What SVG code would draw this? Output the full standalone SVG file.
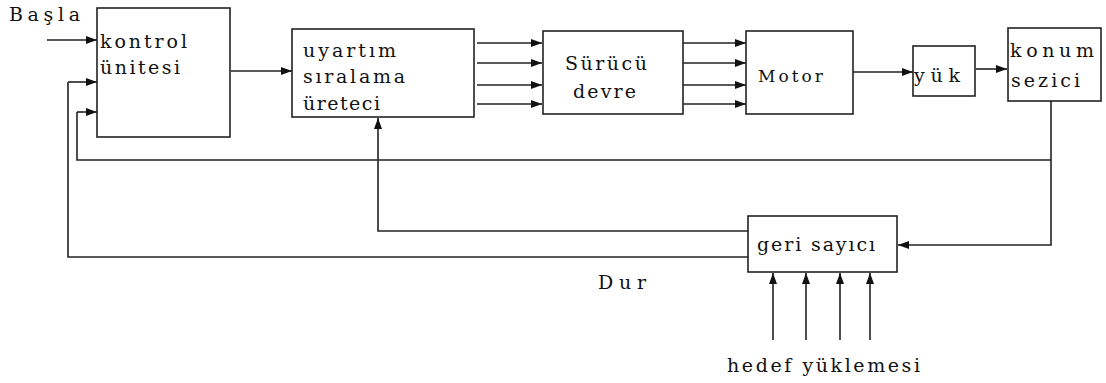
<svg xmlns="http://www.w3.org/2000/svg" width="1106" height="383" viewBox="0 0 1106 383">
<style>
.box{fill:#fff;stroke:#222;stroke-width:1.6}
.ln{fill:none;stroke:#222;stroke-width:1.6}
.ar{fill:none;stroke:#222;stroke-width:1.6;marker-end:url(#ah)}
</style>
<defs>
<marker id="ah" markerUnits="userSpaceOnUse" markerWidth="12" markerHeight="10" refX="11" refY="4" orient="auto">
<path d="M0,0 L11,4 L0,8 Z" fill="#111"/>
</marker>
</defs>
<rect width="1106" height="383" fill="#fff"/>
<g id="connectors">
<path class="ar" d="M47,40 H97"/>
<path class="ar" d="M231,71 H292"/>
<path class="ar" d="M477,43 H542"/>
<path class="ar" d="M477,63 H542"/>
<path class="ar" d="M477,85 H542"/>
<path class="ar" d="M477,104 H542"/>
<path class="ar" d="M683,43 H746"/>
<path class="ar" d="M683,63 H746"/>
<path class="ar" d="M683,85 H746"/>
<path class="ar" d="M683,104 H746"/>
<path class="ar" d="M853,72 H913"/>
<path class="ar" d="M976,69 H1007"/>
<path class="ar" d="M1051,101 V245 H898"/>
<path class="ln" d="M1051,160 H77 V112"/>
<path class="ar" d="M77,112 H97"/>
<path class="ar" d="M748,231 H378 V118"/>
<path class="ln" d="M748,257 H68 V82"/>
<path class="ar" d="M68,82 H97"/>
<path class="ar" d="M773,340 V273"/>
<path class="ar" d="M806,340 V273"/>
<path class="ar" d="M840,340 V273"/>
<path class="ar" d="M870,340 V273"/>
</g>
<g font-family="'DejaVu Serif', serif" font-size="19" fill="#111">
<g id="start"><text x="9" y="21" textLength="71" lengthAdjust="spacing">Başla</text></g>
<g id="kontrol">
<rect class="box" x="97" y="8" width="133" height="129"/>
<text x="100" y="48" textLength="87" lengthAdjust="spacing">kontrol</text>
<text x="100" y="74" textLength="80" lengthAdjust="spacing">ünitesi</text>
</g>
<g id="uyartim">
<rect class="box" x="292" y="29" width="182" height="88"/>
<text x="303" y="57" textLength="93" lengthAdjust="spacing">uyartım</text>
<text x="303" y="83" textLength="102" lengthAdjust="spacing">sıralama</text>
<text x="303" y="110" textLength="77" lengthAdjust="spacing">üreteci</text>
</g>
<g id="surucu">
<rect class="box" x="543" y="31" width="140" height="83"/>
<text x="565" y="70" textLength="82" lengthAdjust="spacing">Sürücü</text>
<text x="573" y="98" textLength="63" lengthAdjust="spacing">devre</text>
</g>
<g id="motor">
<rect class="box" x="746" y="31" width="107" height="83"/>
<text x="758" y="82" font-size="17" textLength="65" lengthAdjust="spacing">Motor</text>
</g>
<g id="yuk">
<rect class="box" x="913" y="46" width="62" height="50"/>
<text x="914" y="82" textLength="46" lengthAdjust="spacing">yük</text>
</g>
<g id="konum">
<rect class="box" x="1008" y="28" width="93" height="73"/>
<text x="1010" y="57" textLength="84" lengthAdjust="spacing">konum</text>
<text x="1011" y="87" textLength="69" lengthAdjust="spacing">sezici</text>
</g>
<g id="geri">
<rect class="box" x="748" y="216" width="149" height="56"/>
<text x="757" y="251" textLength="118" lengthAdjust="spacing">geri sayıcı</text>
</g>
<g id="dur"><text x="598" y="289" textLength="48" lengthAdjust="spacing">Dur</text></g>
<g id="hedef"><text x="727" y="372" textLength="193" lengthAdjust="spacing">hedef yüklemesi</text></g>
</g>
</svg>
